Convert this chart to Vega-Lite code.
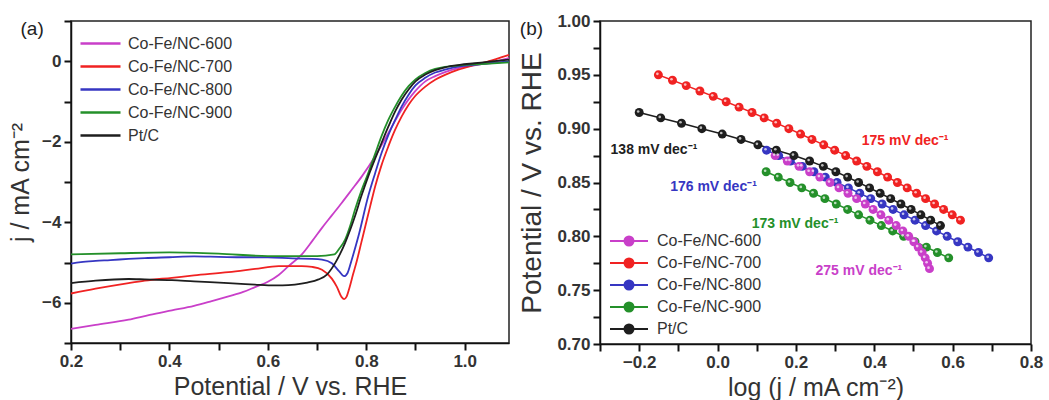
{
  "$schema": "https://vega.github.io/schema/vega-lite/v6.json",
  "padding": {"left": 7, "top": 11, "right": 5, "bottom": 5},
  "background": "white",
  "config": {
    "font": "Liberation Sans",
    "view": {"stroke": "#222", "strokeWidth": 1.5},
    "axis": {
      "labelFont": "Liberation Sans", "labelFontSize": 17, "labelFontWeight": "bold", "labelColor": "#333",
      "titleFont": "Liberation Sans", "titleFontSize": 25, "titleFontWeight": "normal", "titleColor": "#333",
      "domain": true, "domainColor": "#111", "domainWidth": 1.5, "ticks": true, "tickColor": "#111", "tickWidth": 2, "tickSize": 7, "tickOpacity": 1,
      "grid": false, "labelPadding": 3, "labelFlush": false
    },
    "legend": {"labelFont": "Liberation Sans", "labelFontSize": 16, "labelColor": "#333", "padding": 0}
  },
  "datasets": {
    "lsv": [
      {"s": "Co-Fe/NC-600", "x": 0.20, "y": -6.65}, {"s": "Co-Fe/NC-600", "x": 0.25, "y": -6.55}, {"s": "Co-Fe/NC-600", "x": 0.317, "y": -6.42},
      {"s": "Co-Fe/NC-600", "x": 0.36, "y": -6.30}, {"s": "Co-Fe/NC-600", "x": 0.405, "y": -6.19}, {"s": "Co-Fe/NC-600", "x": 0.45, "y": -6.08},
      {"s": "Co-Fe/NC-600", "x": 0.486, "y": -5.96}, {"s": "Co-Fe/NC-600", "x": 0.52, "y": -5.84}, {"s": "Co-Fe/NC-600", "x": 0.55, "y": -5.73},
      {"s": "Co-Fe/NC-600", "x": 0.574, "y": -5.61}, {"s": "Co-Fe/NC-600", "x": 0.60, "y": -5.48}, {"s": "Co-Fe/NC-600", "x": 0.622, "y": -5.31},
      {"s": "Co-Fe/NC-600", "x": 0.642, "y": -5.09}, {"s": "Co-Fe/NC-600", "x": 0.669, "y": -4.80}, {"s": "Co-Fe/NC-600", "x": 0.69, "y": -4.47},
      {"s": "Co-Fe/NC-600", "x": 0.71, "y": -4.14}, {"s": "Co-Fe/NC-600", "x": 0.73, "y": -3.83}, {"s": "Co-Fe/NC-600", "x": 0.75, "y": -3.52},
      {"s": "Co-Fe/NC-600", "x": 0.77, "y": -3.20}, {"s": "Co-Fe/NC-600", "x": 0.791, "y": -2.86},
      {"s": "Co-Fe/NC-600", "x": 0.818, "y": -2.36}, {"s": "Co-Fe/NC-600", "x": 0.845, "y": -1.78}, {"s": "Co-Fe/NC-600", "x": 0.872, "y": -1.20},
      {"s": "Co-Fe/NC-600", "x": 0.899, "y": -0.75}, {"s": "Co-Fe/NC-600", "x": 0.92, "y": -0.50}, {"s": "Co-Fe/NC-600", "x": 0.94, "y": -0.37},
      {"s": "Co-Fe/NC-600", "x": 0.96, "y": -0.27}, {"s": "Co-Fe/NC-600", "x": 0.987, "y": -0.17}, {"s": "Co-Fe/NC-600", "x": 1.02, "y": -0.10},
      {"s": "Co-Fe/NC-600", "x": 1.05, "y": -0.04}, {"s": "Co-Fe/NC-600", "x": 1.09, "y": 0.08},

      {"s": "Co-Fe/NC-700", "x": 0.20, "y": -5.77}, {"s": "Co-Fe/NC-700", "x": 0.25, "y": -5.65}, {"s": "Co-Fe/NC-700", "x": 0.317, "y": -5.51},
      {"s": "Co-Fe/NC-700", "x": 0.35, "y": -5.45}, {"s": "Co-Fe/NC-700", "x": 0.405, "y": -5.38}, {"s": "Co-Fe/NC-700", "x": 0.45, "y": -5.32},
      {"s": "Co-Fe/NC-700", "x": 0.52, "y": -5.24}, {"s": "Co-Fe/NC-700", "x": 0.574, "y": -5.16}, {"s": "Co-Fe/NC-700", "x": 0.622, "y": -5.09},
      {"s": "Co-Fe/NC-700", "x": 0.669, "y": -5.09}, {"s": "Co-Fe/NC-700", "x": 0.69, "y": -5.11}, {"s": "Co-Fe/NC-700", "x": 0.71, "y": -5.18},
      {"s": "Co-Fe/NC-700", "x": 0.73, "y": -5.40}, {"s": "Co-Fe/NC-700", "x": 0.74, "y": -5.60}, {"s": "Co-Fe/NC-700", "x": 0.75, "y": -5.86},
      {"s": "Co-Fe/NC-700", "x": 0.755, "y": -5.91}, {"s": "Co-Fe/NC-700", "x": 0.76, "y": -5.85}, {"s": "Co-Fe/NC-700", "x": 0.766, "y": -5.62},
      {"s": "Co-Fe/NC-700", "x": 0.773, "y": -5.30}, {"s": "Co-Fe/NC-700", "x": 0.781, "y": -4.95}, {"s": "Co-Fe/NC-700", "x": 0.79, "y": -4.50},
      {"s": "Co-Fe/NC-700", "x": 0.798, "y": -4.10}, {"s": "Co-Fe/NC-700", "x": 0.808, "y": -3.60}, {"s": "Co-Fe/NC-700", "x": 0.818, "y": -3.11},
      {"s": "Co-Fe/NC-700", "x": 0.831, "y": -2.58}, {"s": "Co-Fe/NC-700", "x": 0.845, "y": -2.11}, {"s": "Co-Fe/NC-700", "x": 0.858, "y": -1.72},
      {"s": "Co-Fe/NC-700", "x": 0.872, "y": -1.37}, {"s": "Co-Fe/NC-700", "x": 0.886, "y": -1.08}, {"s": "Co-Fe/NC-700", "x": 0.899, "y": -0.87},
      {"s": "Co-Fe/NC-700", "x": 0.92, "y": -0.63}, {"s": "Co-Fe/NC-700", "x": 0.94, "y": -0.46}, {"s": "Co-Fe/NC-700", "x": 0.96, "y": -0.34},
      {"s": "Co-Fe/NC-700", "x": 0.987, "y": -0.21}, {"s": "Co-Fe/NC-700", "x": 1.015, "y": -0.11}, {"s": "Co-Fe/NC-700", "x": 1.041, "y": -0.03},
      {"s": "Co-Fe/NC-700", "x": 1.065, "y": 0.06}, {"s": "Co-Fe/NC-700", "x": 1.09, "y": 0.16},

      {"s": "Co-Fe/NC-800", "x": 0.20, "y": -5.03}, {"s": "Co-Fe/NC-800", "x": 0.22, "y": -4.99}, {"s": "Co-Fe/NC-800", "x": 0.25, "y": -4.96},
      {"s": "Co-Fe/NC-800", "x": 0.28, "y": -4.94}, {"s": "Co-Fe/NC-800", "x": 0.317, "y": -4.91}, {"s": "Co-Fe/NC-800", "x": 0.35, "y": -4.89},
      {"s": "Co-Fe/NC-800", "x": 0.40, "y": -4.87}, {"s": "Co-Fe/NC-800", "x": 0.45, "y": -4.85}, {"s": "Co-Fe/NC-800", "x": 0.50, "y": -4.86},
      {"s": "Co-Fe/NC-800", "x": 0.55, "y": -4.87}, {"s": "Co-Fe/NC-800", "x": 0.60, "y": -4.87}, {"s": "Co-Fe/NC-800", "x": 0.65, "y": -4.90},
      {"s": "Co-Fe/NC-800", "x": 0.69, "y": -4.91}, {"s": "Co-Fe/NC-800", "x": 0.71, "y": -4.93}, {"s": "Co-Fe/NC-800", "x": 0.73, "y": -5.02},
      {"s": "Co-Fe/NC-800", "x": 0.745, "y": -5.22}, {"s": "Co-Fe/NC-800", "x": 0.755, "y": -5.34}, {"s": "Co-Fe/NC-800", "x": 0.762, "y": -5.26},
      {"s": "Co-Fe/NC-800", "x": 0.77, "y": -4.95}, {"s": "Co-Fe/NC-800", "x": 0.784, "y": -4.35}, {"s": "Co-Fe/NC-800", "x": 0.804, "y": -3.35},
      {"s": "Co-Fe/NC-800", "x": 0.818, "y": -2.78}, {"s": "Co-Fe/NC-800", "x": 0.831, "y": -2.28}, {"s": "Co-Fe/NC-800", "x": 0.845, "y": -1.83},
      {"s": "Co-Fe/NC-800", "x": 0.859, "y": -1.45}, {"s": "Co-Fe/NC-800", "x": 0.872, "y": -1.12}, {"s": "Co-Fe/NC-800", "x": 0.886, "y": -0.83},
      {"s": "Co-Fe/NC-800", "x": 0.90, "y": -0.60}, {"s": "Co-Fe/NC-800", "x": 0.92, "y": -0.41}, {"s": "Co-Fe/NC-800", "x": 0.94, "y": -0.28},
      {"s": "Co-Fe/NC-800", "x": 0.96, "y": -0.21}, {"s": "Co-Fe/NC-800", "x": 0.99, "y": -0.13}, {"s": "Co-Fe/NC-800", "x": 1.02, "y": -0.09},
      {"s": "Co-Fe/NC-800", "x": 1.05, "y": -0.05}, {"s": "Co-Fe/NC-800", "x": 1.09, "y": 0.00},

      {"s": "Co-Fe/NC-900", "x": 0.20, "y": -4.80}, {"s": "Co-Fe/NC-900", "x": 0.30, "y": -4.77}, {"s": "Co-Fe/NC-900", "x": 0.40, "y": -4.75},
      {"s": "Co-Fe/NC-900", "x": 0.50, "y": -4.78}, {"s": "Co-Fe/NC-900", "x": 0.60, "y": -4.84}, {"s": "Co-Fe/NC-900", "x": 0.70, "y": -4.84},
      {"s": "Co-Fe/NC-900", "x": 0.735, "y": -4.80}, {"s": "Co-Fe/NC-900", "x": 0.745, "y": -4.66}, {"s": "Co-Fe/NC-900", "x": 0.757, "y": -4.43},
      {"s": "Co-Fe/NC-900", "x": 0.767, "y": -4.10}, {"s": "Co-Fe/NC-900", "x": 0.777, "y": -3.69}, {"s": "Co-Fe/NC-900", "x": 0.79, "y": -3.22},
      {"s": "Co-Fe/NC-900", "x": 0.804, "y": -2.78}, {"s": "Co-Fe/NC-900", "x": 0.818, "y": -2.30}, {"s": "Co-Fe/NC-900", "x": 0.831, "y": -1.86},
      {"s": "Co-Fe/NC-900", "x": 0.845, "y": -1.45}, {"s": "Co-Fe/NC-900", "x": 0.859, "y": -1.12}, {"s": "Co-Fe/NC-900", "x": 0.872, "y": -0.85},
      {"s": "Co-Fe/NC-900", "x": 0.886, "y": -0.62}, {"s": "Co-Fe/NC-900", "x": 0.90, "y": -0.45}, {"s": "Co-Fe/NC-900", "x": 0.92, "y": -0.29},
      {"s": "Co-Fe/NC-900", "x": 0.94, "y": -0.19}, {"s": "Co-Fe/NC-900", "x": 0.96, "y": -0.14}, {"s": "Co-Fe/NC-900", "x": 0.99, "y": -0.10},
      {"s": "Co-Fe/NC-900", "x": 1.02, "y": -0.08}, {"s": "Co-Fe/NC-900", "x": 1.05, "y": -0.06}, {"s": "Co-Fe/NC-900", "x": 1.09, "y": -0.03},

      {"s": "Pt/C", "x": 0.20, "y": -5.51}, {"s": "Pt/C", "x": 0.25, "y": -5.45}, {"s": "Pt/C", "x": 0.317, "y": -5.41},
      {"s": "Pt/C", "x": 0.35, "y": -5.42}, {"s": "Pt/C", "x": 0.405, "y": -5.44}, {"s": "Pt/C", "x": 0.45, "y": -5.47},
      {"s": "Pt/C", "x": 0.52, "y": -5.51}, {"s": "Pt/C", "x": 0.574, "y": -5.55}, {"s": "Pt/C", "x": 0.601, "y": -5.57},
      {"s": "Pt/C", "x": 0.63, "y": -5.57}, {"s": "Pt/C", "x": 0.655, "y": -5.55}, {"s": "Pt/C", "x": 0.68, "y": -5.50},
      {"s": "Pt/C", "x": 0.703, "y": -5.42}, {"s": "Pt/C", "x": 0.72, "y": -5.30}, {"s": "Pt/C", "x": 0.737, "y": -5.01},
      {"s": "Pt/C", "x": 0.747, "y": -4.78}, {"s": "Pt/C", "x": 0.757, "y": -4.51}, {"s": "Pt/C", "x": 0.767, "y": -4.20},
      {"s": "Pt/C", "x": 0.777, "y": -3.85}, {"s": "Pt/C", "x": 0.79, "y": -3.35}, {"s": "Pt/C", "x": 0.804, "y": -2.86},
      {"s": "Pt/C", "x": 0.818, "y": -2.42}, {"s": "Pt/C", "x": 0.831, "y": -2.03}, {"s": "Pt/C", "x": 0.845, "y": -1.62},
      {"s": "Pt/C", "x": 0.859, "y": -1.24}, {"s": "Pt/C", "x": 0.872, "y": -0.95}, {"s": "Pt/C", "x": 0.886, "y": -0.70},
      {"s": "Pt/C", "x": 0.90, "y": -0.50}, {"s": "Pt/C", "x": 0.92, "y": -0.33}, {"s": "Pt/C", "x": 0.94, "y": -0.22},
      {"s": "Pt/C", "x": 0.96, "y": -0.15}, {"s": "Pt/C", "x": 0.99, "y": -0.09}, {"s": "Pt/C", "x": 1.02, "y": -0.05},
      {"s": "Pt/C", "x": 1.05, "y": -0.01}, {"s": "Pt/C", "x": 1.09, "y": 0.04}
    ],
    "tafel": [
      {"s": "Co-Fe/NC-900", "x": 0.124, "y": 0.860}, {"s": "Co-Fe/NC-900", "x": 0.155, "y": 0.855}, {"s": "Co-Fe/NC-900", "x": 0.185, "y": 0.850},
      {"s": "Co-Fe/NC-900", "x": 0.215, "y": 0.845}, {"s": "Co-Fe/NC-900", "x": 0.245, "y": 0.840}, {"s": "Co-Fe/NC-900", "x": 0.274, "y": 0.835},
      {"s": "Co-Fe/NC-900", "x": 0.303, "y": 0.830}, {"s": "Co-Fe/NC-900", "x": 0.332, "y": 0.825}, {"s": "Co-Fe/NC-900", "x": 0.360, "y": 0.820},
      {"s": "Co-Fe/NC-900", "x": 0.389, "y": 0.815}, {"s": "Co-Fe/NC-900", "x": 0.418, "y": 0.810}, {"s": "Co-Fe/NC-900", "x": 0.447, "y": 0.805},
      {"s": "Co-Fe/NC-900", "x": 0.475, "y": 0.800}, {"s": "Co-Fe/NC-900", "x": 0.504, "y": 0.795}, {"s": "Co-Fe/NC-900", "x": 0.533, "y": 0.790},
      {"s": "Co-Fe/NC-900", "x": 0.561, "y": 0.785}, {"s": "Co-Fe/NC-900", "x": 0.590, "y": 0.780},

      {"s": "Co-Fe/NC-800", "x": 0.125, "y": 0.880}, {"s": "Co-Fe/NC-800", "x": 0.156, "y": 0.875}, {"s": "Co-Fe/NC-800", "x": 0.186, "y": 0.870},
      {"s": "Co-Fe/NC-800", "x": 0.216, "y": 0.865}, {"s": "Co-Fe/NC-800", "x": 0.246, "y": 0.860}, {"s": "Co-Fe/NC-800", "x": 0.275, "y": 0.855},
      {"s": "Co-Fe/NC-800", "x": 0.305, "y": 0.850}, {"s": "Co-Fe/NC-800", "x": 0.334, "y": 0.845}, {"s": "Co-Fe/NC-800", "x": 0.363, "y": 0.840},
      {"s": "Co-Fe/NC-800", "x": 0.391, "y": 0.835}, {"s": "Co-Fe/NC-800", "x": 0.420, "y": 0.830}, {"s": "Co-Fe/NC-800", "x": 0.448, "y": 0.825},
      {"s": "Co-Fe/NC-800", "x": 0.476, "y": 0.820}, {"s": "Co-Fe/NC-800", "x": 0.504, "y": 0.815}, {"s": "Co-Fe/NC-800", "x": 0.531, "y": 0.810},
      {"s": "Co-Fe/NC-800", "x": 0.559, "y": 0.805}, {"s": "Co-Fe/NC-800", "x": 0.586, "y": 0.800}, {"s": "Co-Fe/NC-800", "x": 0.613, "y": 0.795},
      {"s": "Co-Fe/NC-800", "x": 0.639, "y": 0.790}, {"s": "Co-Fe/NC-800", "x": 0.666, "y": 0.785}, {"s": "Co-Fe/NC-800", "x": 0.692, "y": 0.780},

      {"s": "Co-Fe/NC-600", "x": 0.147, "y": 0.875}, {"s": "Co-Fe/NC-600", "x": 0.178, "y": 0.870}, {"s": "Co-Fe/NC-600", "x": 0.208, "y": 0.865},
      {"s": "Co-Fe/NC-600", "x": 0.235, "y": 0.860}, {"s": "Co-Fe/NC-600", "x": 0.261, "y": 0.855}, {"s": "Co-Fe/NC-600", "x": 0.287, "y": 0.850},
      {"s": "Co-Fe/NC-600", "x": 0.310, "y": 0.845}, {"s": "Co-Fe/NC-600", "x": 0.333, "y": 0.840}, {"s": "Co-Fe/NC-600", "x": 0.355, "y": 0.835},
      {"s": "Co-Fe/NC-600", "x": 0.377, "y": 0.830}, {"s": "Co-Fe/NC-600", "x": 0.397, "y": 0.825}, {"s": "Co-Fe/NC-600", "x": 0.417, "y": 0.820},
      {"s": "Co-Fe/NC-600", "x": 0.437, "y": 0.815}, {"s": "Co-Fe/NC-600", "x": 0.456, "y": 0.810}, {"s": "Co-Fe/NC-600", "x": 0.473, "y": 0.805},
      {"s": "Co-Fe/NC-600", "x": 0.488, "y": 0.800}, {"s": "Co-Fe/NC-600", "x": 0.501, "y": 0.795}, {"s": "Co-Fe/NC-600", "x": 0.512, "y": 0.790},
      {"s": "Co-Fe/NC-600", "x": 0.522, "y": 0.785}, {"s": "Co-Fe/NC-600", "x": 0.530, "y": 0.780}, {"s": "Co-Fe/NC-600", "x": 0.536, "y": 0.775},
      {"s": "Co-Fe/NC-600", "x": 0.541, "y": 0.770},

      {"s": "Pt/C", "x": -0.200, "y": 0.915}, {"s": "Pt/C", "x": -0.145, "y": 0.910}, {"s": "Pt/C", "x": -0.092, "y": 0.905},
      {"s": "Pt/C", "x": -0.040, "y": 0.900}, {"s": "Pt/C", "x": 0.012, "y": 0.895}, {"s": "Pt/C", "x": 0.060, "y": 0.890},
      {"s": "Pt/C", "x": 0.103, "y": 0.885}, {"s": "Pt/C", "x": 0.150, "y": 0.880}, {"s": "Pt/C", "x": 0.195, "y": 0.875},
      {"s": "Pt/C", "x": 0.235, "y": 0.870}, {"s": "Pt/C", "x": 0.270, "y": 0.865}, {"s": "Pt/C", "x": 0.302, "y": 0.860},
      {"s": "Pt/C", "x": 0.332, "y": 0.855}, {"s": "Pt/C", "x": 0.360, "y": 0.850}, {"s": "Pt/C", "x": 0.388, "y": 0.845},
      {"s": "Pt/C", "x": 0.415, "y": 0.840}, {"s": "Pt/C", "x": 0.442, "y": 0.835}, {"s": "Pt/C", "x": 0.468, "y": 0.830},
      {"s": "Pt/C", "x": 0.494, "y": 0.825}, {"s": "Pt/C", "x": 0.519, "y": 0.820}, {"s": "Pt/C", "x": 0.544, "y": 0.815},
      {"s": "Pt/C", "x": 0.569, "y": 0.810},

      {"s": "Co-Fe/NC-700", "x": -0.151, "y": 0.950}, {"s": "Co-Fe/NC-700", "x": -0.115, "y": 0.945}, {"s": "Co-Fe/NC-700", "x": -0.080, "y": 0.940},
      {"s": "Co-Fe/NC-700", "x": -0.045, "y": 0.935}, {"s": "Co-Fe/NC-700", "x": -0.011, "y": 0.930}, {"s": "Co-Fe/NC-700", "x": 0.022, "y": 0.925},
      {"s": "Co-Fe/NC-700", "x": 0.055, "y": 0.920}, {"s": "Co-Fe/NC-700", "x": 0.088, "y": 0.915}, {"s": "Co-Fe/NC-700", "x": 0.119, "y": 0.910},
      {"s": "Co-Fe/NC-700", "x": 0.151, "y": 0.905}, {"s": "Co-Fe/NC-700", "x": 0.182, "y": 0.900}, {"s": "Co-Fe/NC-700", "x": 0.212, "y": 0.895},
      {"s": "Co-Fe/NC-700", "x": 0.241, "y": 0.890}, {"s": "Co-Fe/NC-700", "x": 0.271, "y": 0.885}, {"s": "Co-Fe/NC-700", "x": 0.299, "y": 0.880},
      {"s": "Co-Fe/NC-700", "x": 0.327, "y": 0.875}, {"s": "Co-Fe/NC-700", "x": 0.355, "y": 0.870}, {"s": "Co-Fe/NC-700", "x": 0.381, "y": 0.865},
      {"s": "Co-Fe/NC-700", "x": 0.408, "y": 0.860}, {"s": "Co-Fe/NC-700", "x": 0.434, "y": 0.855}, {"s": "Co-Fe/NC-700", "x": 0.459, "y": 0.850},
      {"s": "Co-Fe/NC-700", "x": 0.484, "y": 0.845}, {"s": "Co-Fe/NC-700", "x": 0.508, "y": 0.840}, {"s": "Co-Fe/NC-700", "x": 0.531, "y": 0.835},
      {"s": "Co-Fe/NC-700", "x": 0.554, "y": 0.830}, {"s": "Co-Fe/NC-700", "x": 0.577, "y": 0.825}, {"s": "Co-Fe/NC-700", "x": 0.599, "y": 0.820},
      {"s": "Co-Fe/NC-700", "x": 0.620, "y": 0.815}
    ],
    "notes": [
      {"t": "175 mV dec⁻¹", "x": 0.368, "y": 0.889, "s": "Co-Fe/NC-700"},
      {"t": "138 mV dec⁻¹", "x": -0.273, "y": 0.880, "s": "Pt/C"},
      {"t": "176 mV dec⁻¹", "x": -0.121, "y": 0.8456, "s": "Co-Fe/NC-800"},
      {"t": "173 mV dec⁻¹", "x": 0.087, "y": 0.8115, "s": "Co-Fe/NC-900"},
      {"t": "275 mV dec⁻¹", "x": 0.25, "y": 0.768, "s": "Co-Fe/NC-600"}
    ]
  },
  "hconcat": [
    {
      "width": 438,
      "height": 322,
      "encoding": {
        "x": {"field": "x", "type": "quantitative", "scale": {"domain": [0.2, 1.09], "nice": false, "zero": false},
              "axis": {"title": "Potential / V vs. RHE", "values": [0.2, 0.3, 0.4, 0.5, 0.6, 0.7, 0.8, 0.9, 1.0],
                       "labelExpr": "round(datum.value*10) % 2 == 0 ? format(datum.value, '.1f') : ''", "titlePadding": 5}},
        "y": {"field": "y", "type": "quantitative", "scale": {"domain": [-7, 1], "nice": false, "zero": false},
              "axis": {"title": "j / mA cm⁻²", "values": [-7, -6, -5, -4, -3, -2, -1, 0, 1],
                       "labelExpr": "datum.value % 2 == 0 ? datum.label : ''", "titlePadding": 8}}
      },
      "layer": [
        {
          "data": {"name": "lsv"},
          "mark": {"type": "line", "strokeWidth": 1.8, "interpolate": "monotone"},
          "encoding": {
            "color": {"field": "s", "type": "nominal",
                      "scale": {"domain": ["Co-Fe/NC-600", "Co-Fe/NC-700", "Co-Fe/NC-800", "Co-Fe/NC-900", "Pt/C"],
                                "range": ["#c93fc9", "#f02222", "#3636c2", "#24902a", "#1e1e1e"]},
                      "legend": {"orient": "none", "legendX": 18, "legendY": 11, "title": null, "symbolType": "M-2,0L2,0",
                                 "symbolSize": 400, "symbolStrokeWidth": 2.5, "rowPadding": 3, "labelOffset": 16}}
          }
        },
        {
          "data": {"values": [{"t": "(a)", "x": 0.121, "y": 0.8}]},
          "mark": {"type": "text", "fontSize": 19, "align": "center", "baseline": "middle", "color": "#222"},
          "encoding": {"text": {"field": "t"}}
        }
      ]
    },
    {
      "width": 431,
      "height": 323,
      "encoding": {
        "x": {"field": "x", "type": "quantitative", "scale": {"domain": [-0.3, 0.8], "nice": false, "zero": false},
              "axis": {"title": "log (j / mA cm⁻²)", "values": [-0.3, -0.2, -0.1, 0, 0.1, 0.2, 0.3, 0.4, 0.5, 0.6, 0.7, 0.8],
                       "labelExpr": "round(datum.value*10) % 2 == 0 ? format(datum.value, '.1f') : ''", "titlePadding": 5}},
        "y": {"field": "y", "type": "quantitative", "scale": {"domain": [0.7, 1.0], "nice": false, "zero": false},
              "axis": {"title": "Potential / V vs. RHE", "titleFontSize": 28, "values": [0.7, 0.725, 0.75, 0.775, 0.8, 0.825, 0.85, 0.875, 0.9, 0.925, 0.95, 0.975, 1.0],
                       "labelExpr": "round(datum.value*1000) % 50 == 0 ? format(datum.value, '.2f') : ''", "titlePadding": 10}}
      },
      "layer": [
        {
          "data": {"name": "tafel"},
          "mark": {"type": "line", "strokeWidth": 1.5},
          "encoding": {
            "color": {"field": "s", "type": "nominal",
                      "scale": {"domain": ["Co-Fe/NC-600", "Co-Fe/NC-700", "Co-Fe/NC-800", "Co-Fe/NC-900", "Pt/C"],
                                "range": ["#c93fc9", "#f02222", "#3636c2", "#24902a", "#1e1e1e"]},
                      "legend": {"orient": "none", "legendX": 18, "legendY": 209, "title": null,
                                 "symbolType": "M-1.9,0L1.9,0M-0.45,0A0.45,0.45,0,1,0,0.45,0A0.45,0.45,0,1,0,-0.45,0M-0.28,0A0.28,0.28,0,1,0,0.28,0A0.28,0.28,0,1,0,-0.28,0M-0.12,0A0.12,0.12,0,1,0,0.12,0A0.12,0.12,0,1,0,-0.12,0",
                                 "symbolSize": 400, "symbolStrokeWidth": 2, "rowPadding": 2, "labelOffset": 17}}
          }
        },
        {
          "data": {"name": "tafel"},
          "mark": {"type": "point", "filled": true, "size": 80, "opacity": 1},
          "encoding": {"color": {"field": "s", "type": "nominal", "legend": null}}
        },
        {
          "data": {"name": "tafel"},
          "mark": {"type": "point", "filled": true, "size": 7, "color": "white", "opacity": 0.7, "xOffset": -1, "yOffset": -1}
        },
        {
          "data": {"name": "notes"},
          "mark": {"type": "text", "fontSize": 14, "fontWeight": "bold", "align": "left", "baseline": "middle"},
          "encoding": {"text": {"field": "t"}, "color": {"field": "s", "type": "nominal", "legend": null}}
        },
        {
          "data": {"values": [{"t": "(b)", "x": -0.475, "y": 0.993}]},
          "mark": {"type": "text", "fontSize": 19, "align": "center", "baseline": "middle", "color": "#222"},
          "encoding": {"text": {"field": "t"}}
        }
      ]
    }
  ],
  "spacing": 91,
  "bounds": "flush",
  "resolve": {"scale": {"color": "independent", "x": "independent", "y": "independent"}, "legend": {"color": "independent"}}
}
